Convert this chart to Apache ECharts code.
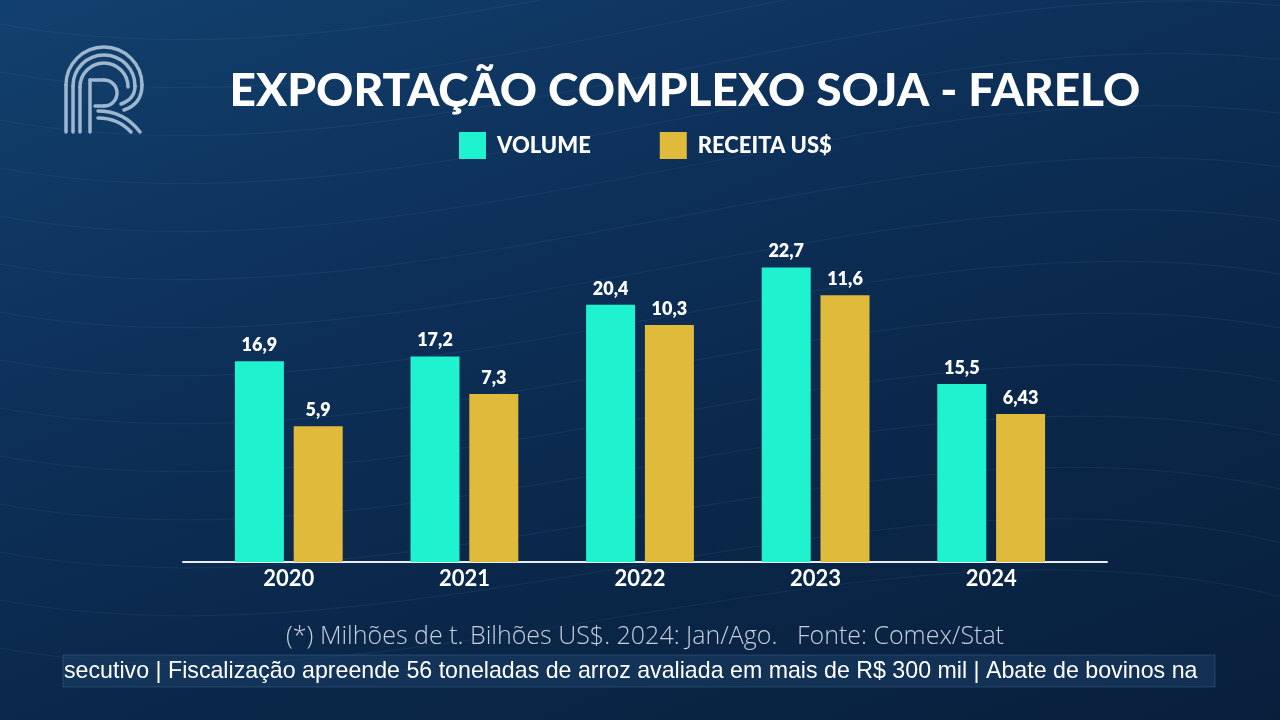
<!DOCTYPE html>
<html>
<head>
<meta charset="utf-8">
<script src="https://cdn.jsdelivr.net/npm/echarts@6/dist/echarts.min.js"></script>
<style>
html,body{margin:0;padding:0;width:1280px;height:720px;overflow:hidden;}
body{background:linear-gradient(160deg,#12406e 0%,#0d3059 35%,#0a2749 65%,#081f3c 100%);}
#c{width:1280px;height:720px;}
</style>
</head>
<body>
<div id="c"></div>
<script>
const categories = ['2020', '2021', '2022', '2023', '2024'];
const volume = [16.9, 17.2, 20.4, 22.7, 15.5];
const receita = [5.9, 7.3, 10.3, 11.6, 6.43];
const seriesNames = ['VOLUME', 'RECEITA US$'];
const titleText = 'EXPORTAÇÃO COMPLEXO SOJA - FARELO';
const footnote = '(*) Milhões de t. Bilhões US$. 2024: Jan/Ago.   Fonte: Comex/Stat';
const ticker = 'secutivo | Fiscalização apreende 56 toneladas de arroz avaliada em mais de R$ 300 mil | Abate de bovinos na';

const chart = echarts.init(document.getElementById('c'), null, {renderer: 'canvas'});
const fmt = p => String(p.value).replace('.', ',');
const lbl = {
  show: true, position: 'top', distance: 7, color: '#ffffff',
  fontFamily: 'Lato, "Open Sans", sans-serif', fontWeight: 800, fontSize: 18, formatter: fmt
};

// faint decorative wave lines
const waves = [];
for (let i = 0; i < 14; i++) {
  const y0 = 20 + i * 48;
  waves.push({
    type: 'bezierCurve', silent: true, z: -10,
    shape: {x1: -20, y1: y0, x2: 1300, y2: y0 - 120 + i * 6, cpx1: 400, cpy1: y0 + 90, cpx2: 900, cpy2: y0 - 160},
    style: {stroke: 'rgba(160,200,240,0.07)', lineWidth: 1.2, fill: null}
  });
}

const ls = {stroke: '#9fb6cf', lineWidth: 3.5, fill: null, lineCap: 'round'};
const P = Math.PI;
const logo = [
  {type: 'arc', shape: {cx: 104, cy: 85, r: 38, startAngle: P, endAngle: 2 * P, clockwise: true}, style: ls},
  {type: 'line', shape: {x1: 66, y1: 85, x2: 66, y2: 132}, style: ls},
  {type: 'bezierCurve', shape: {x1: 142, y1: 85, cpx1: 142, cpy1: 104, x2: 124, y2: 110}, style: ls},
  {type: 'arc', shape: {cx: 104, cy: 86, r: 31, startAngle: P, endAngle: 2 * P, clockwise: true}, style: ls},
  {type: 'line', shape: {x1: 73, y1: 86, x2: 73, y2: 132}, style: ls},
  {type: 'bezierCurve', shape: {x1: 135, y1: 86, cpx1: 135, cpy1: 99, x2: 121, y2: 104}, style: ls},
  {type: 'arc', shape: {cx: 104, cy: 87, r: 24, startAngle: P, endAngle: 2 * P, clockwise: true}, style: ls},
  {type: 'line', shape: {x1: 80, y1: 87, x2: 80, y2: 132}, style: ls},
  {type: 'line', shape: {x1: 90, y1: 132, x2: 90, y2: 80}, style: ls},
  {type: 'line', shape: {x1: 90, y1: 80, x2: 104, y2: 80}, style: ls},
  {type: 'arc', shape: {cx: 104, cy: 93, r: 13, startAngle: -P / 2, endAngle: P / 2, clockwise: true}, style: ls},
  {type: 'line', shape: {x1: 104, y1: 106, x2: 95, y2: 106}, style: ls},
  {type: 'bezierCurve', shape: {x1: 98, y1: 111, cpx1: 124, cpy1: 111, x2: 140, y2: 132}, style: ls},
  {type: 'bezierCurve', shape: {x1: 98, y1: 118, cpx1: 118, cpy1: 118, x2: 131, y2: 132}, style: ls}
].map(e => Object.assign({silent: true}, e));

chart.setOption({
  backgroundColor: 'transparent',
  animation: false,
  title: {
    text: titleText, left: 680, top: 63, textAlign: 'center',
    textStyle: {color: '#ffffff', fontFamily: 'Lato, "Open Sans", sans-serif', fontWeight: 900, fontSize: 46}
  },
  legend: {
    left: 454, top: 127, itemWidth: 27, itemHeight: 27, itemGap: 69, icon: 'rect',
    data: seriesNames,
    textStyle: {color: '#ffffff', fontFamily: 'Lato, "Open Sans", sans-serif', fontWeight: 900, fontSize: 22, padding: [0, 0, 0, 6]}
  },
  grid: [
    {left: 201, right: 201, top: 240, bottom: 158},
    {left: 183, right: 173, top: 540, bottom: 158}
  ],
  xAxis: [
    {
      type: 'category', data: categories, gridIndex: 0,
      axisLine: {show: false}, axisTick: {show: false},
      axisLabel: {color: '#ffffff', fontFamily: 'Lato, "Open Sans", sans-serif', fontWeight: 700, fontSize: 22, margin: 6}
    },
    {
      type: 'value', gridIndex: 1, min: 0, max: 1,
      axisLine: {show: true, lineStyle: {color: '#e6edf5', width: 2}},
      axisTick: {show: false}, axisLabel: {show: false}, splitLine: {show: false}
    }
  ],
  yAxis: [
    {type: 'value', gridIndex: 0, min: 4.5, max: 24.4, show: false, splitLine: {show: false}},
    {type: 'value', gridIndex: 0, min: 0, max: 14, show: false, splitLine: {show: false}},
    {type: 'value', gridIndex: 1, min: 0, max: 1, show: false, splitLine: {show: false}}
  ],
  series: [
    {name: seriesNames[0], type: 'bar', xAxisIndex: 0, yAxisIndex: 0, data: volume,
     barWidth: 49, barGap: '20%', itemStyle: {color: '#1ff2cf'}, label: lbl},
    {name: seriesNames[1], type: 'bar', xAxisIndex: 0, yAxisIndex: 1, data: receita,
     barWidth: 49, barGap: '20%', itemStyle: {color: '#e0bb3b'}, label: lbl}
  ],
  graphic: [
    ...waves,
    ...logo,
    {type: 'text', silent: true, x: 645, y: 637,
     style: {text: footnote, fill: '#c5cedb', font: '300 25px "Open Sans", sans-serif', align: 'center', verticalAlign: 'middle'}},
    {type: 'rect', silent: true, shape: {x: 63, y: 655, width: 1152, height: 32},
     style: {fill: 'rgba(30,68,108,0.45)', stroke: 'rgba(110,150,195,0.25)', lineWidth: 1}},
    {type: 'text', silent: true, x: 64, y: 672,
     style: {text: ticker, fill: '#ffffff', font: '23.2px "Liberation Sans", Arial, sans-serif', verticalAlign: 'middle'}}
  ]
});
</script>
</body>
</html>
